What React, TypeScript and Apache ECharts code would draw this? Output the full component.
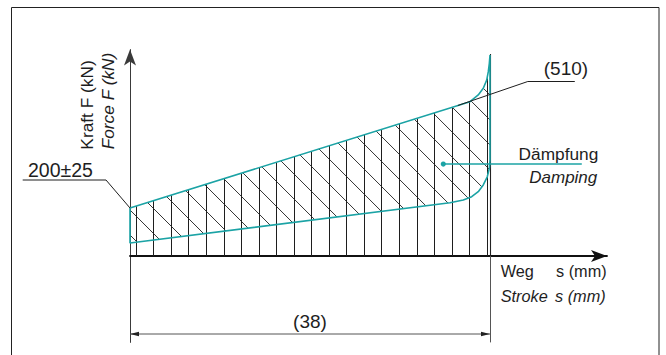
import React, { useEffect, useRef } from 'react';
import * as echarts from 'echarts';

// ---------- data (schematic force / stroke diagram) ----------
const STROKE_MM = 38;                 // dimension "(38)"
const PRELOAD_LABEL = '200±25';       // preload at s = 0
const MAX_FORCE_LABEL = '(510)';
const DAMPING_DE = 'Dämpfung';
const DAMPING_EN = 'Damping';
const Y_LABEL_DE = 'Kraft F (kN)';
const Y_LABEL_EN = 'Force F (kN)';
const X_LABEL_DE = ['Weg', 's (mm)'];
const X_LABEL_EN = ['Stroke', 's (mm)'];

// upper boundary of hatched area: [stroke mm] / [force, schematic kN]
const upperStroke = [0, 35.89, 36.76, 37.29, 37.65, 37.82, 37.93, 38];
const upperForce = [200, 643, 671, 699, 733, 768, 803, 837.5];
// lower boundary of hatched (damping) band
const lowerStroke = [0, 33.78, 35.18, 36.07, 36.76, 37.29, 37.71, 37.93, 38];
const lowerForce = [54, 222, 233, 247, 268, 296, 330, 365, 400];

// annotation anchors (data units)
const preloadPoint = [0, 200];
const maxLeaderStroke = 34.6;
const dampingPoint = [33.07, 383];

// ---------- layout / style constants ----------
const X_MAX = 50.35;
const Y_MIN = -360;
const Y_MAX = 860;
const DIM_FORCE = -325;
const V_HATCH_START = 0.633;
const V_HATCH_STEP = 1.8526;
const D_HATCH_START = 87.5;
const D_HATCH_STEP = 104.17;
const D_HATCH_SLOPE = -39.47;
const TEAL = '#1ba3a5';
const INK = '#1e1e1e';
const FONT = '"Liberation Sans", Arial, Helvetica, sans-serif';

function interp(xs: number[], ys: number[], x: number) {
  if (x <= xs[0]) return ys[0];
  for (let i = 1; i < xs.length; i++) {
    if (x <= xs[i]) {
      const d = xs[i] - xs[i - 1];
      const t = d === 0 ? 1 : (x - xs[i - 1]) / d;
      return ys[i - 1] + t * (ys[i] - ys[i - 1]);
    }
  }
  return ys[ys.length - 1];
}
function rootOf(fn: (x: number) => number, lo: number, hi: number) {
  for (let i = 0; i < 50; i++) {
    const m = (lo + hi) / 2;
    if (fn(m) > 0) lo = m; else hi = m;
  }
  return (lo + hi) / 2;
}

const upperAt = (x: number) => interp(upperStroke, upperForce, x);
const lowerAt = (x: number) => interp(lowerStroke, lowerForce, x);

function buildVerticalHatch() {
  const segs: any[] = [];
  for (let k = 0; ; k++) {
    const x = V_HATCH_START + k * V_HATCH_STEP;
    if (x > STROKE_MM) break;
    segs.push({ coords: [[x, 0], [x, upperAt(x)]] });
  }
  return segs;
}
function buildDiagonalHatch() {
  const segs: any[] = [];
  for (let k = 0; k < 40; k++) {
    const a = D_HATCH_START + k * D_HATCH_STEP;
    const line = (x: number) => a + D_HATCH_SLOPE * x;
    const f = (x: number) => line(x) - upperAt(x);
    const g = (x: number) => line(x) - lowerAt(x);
    if (f(STROKE_MM) > 0) continue;
    if (g(0) < 0) continue;
    const x0 = f(0) <= 0 ? 0 : rootOf(f, 0, STROKE_MM);
    const x1 = g(STROKE_MM) >= 0 ? STROKE_MM : rootOf(g, 0, STROKE_MM);
    if (x1 <= x0) continue;
    segs.push({ coords: [[x0, line(x0)], [x1, line(x1)]] });
  }
  return segs;
}
function buildBoundary() {
  const pts: number[][] = [];
  upperStroke.forEach((x, i) => pts.push([x, upperForce[i]]));
  for (let i = lowerStroke.length - 1; i >= 0; i--) pts.push([lowerStroke[i], lowerForce[i]]);
  pts.push([upperStroke[0], upperForce[0]]);
  return pts;
}

export default function App() {
  const ref = useRef<HTMLDivElement>(null);
  useEffect(() => {
    if (!ref.current) return;
    const chart = echarts.init(ref.current, undefined, { renderer: 'svg' });
    const top = upperForce[upperForce.length - 1];
    chart.setOption({
      animation: false,
      grid: { left: 130, right: 59, top: 49.6, bottom: 12.6 },
      xAxis: {
        type: 'value', min: 0, max: X_MAX,
        axisLine: { show: true, onZero: true, symbol: ['none', 'arrow'], symbolSize: [9, 16], lineStyle: { color: '#111', width: 1.8 } },
        axisTick: { show: false }, axisLabel: { show: false }, splitLine: { show: false },
      },
      yAxis: {
        type: 'value', min: Y_MIN, max: Y_MAX,
        axisLine: { show: true, onZero: true, symbol: ['none', 'arrow'], symbolSize: [9, 16], lineStyle: { color: '#3a3a3a', width: 1 } },
        axisTick: { show: false }, axisLabel: { show: false }, splitLine: { show: false },
      },
      series: [
        {
          type: 'lines', coordinateSystem: 'cartesian2d', silent: true, z: 2,
          lineStyle: { color: INK, width: 1, opacity: 1 },
          data: buildVerticalHatch(),
        },
        {
          type: 'lines', coordinateSystem: 'cartesian2d', silent: true, z: 2,
          lineStyle: { color: INK, width: 0.9, opacity: 1 },
          data: buildDiagonalHatch(),
        },
        {
          type: 'lines', coordinateSystem: 'cartesian2d', silent: true, z: 3,
          lineStyle: { color: '#222', width: 1.1, opacity: 1 },
          data: [{ coords: [[STROKE_MM, top + 4], [STROKE_MM, 0]] }],
        },
        {
          type: 'lines', coordinateSystem: 'cartesian2d', silent: true, z: 3,
          lineStyle: { color: '#555', width: 1, opacity: 1 },
          data: [{ coords: [[STROKE_MM, 0], [STROKE_MM, Y_MIN]] }],
        },
        {
          type: 'line', silent: true, z: 5, symbol: 'none',
          lineStyle: { color: TEAL, width: 1.6 },
          data: buildBoundary(),
        },
      ],
    });

    const px = (p: number[]) => chart.convertToPixel({ gridIndex: 0 } as any, p) as number[];
    const A = px(preloadPoint);
    const B = px([maxLeaderStroke, upperAt(maxLeaderStroke)]);
    const D = px(dampingPoint);
    const E = px([STROKE_MM, 0]);
    const P0 = px([0, DIM_FORCE]);
    const P1 = px([STROKE_MM, DIM_FORCE]);
    const txt = (text: string, x: number, y: number, size: number, align: string, italic = false, extra: any = {}) => ({
      type: 'text', x, y, silent: true, z: 20, ...extra,
      style: {
        text, fill: INK, fontSize: size, fontFamily: FONT, fontStyle: italic ? 'italic' : 'normal',
        align, textAlign: align, verticalAlign: 'middle', textVerticalAlign: 'middle',
      },
    });
    const thin = { stroke: INK, lineWidth: 1, fill: 'none' };

    chart.setOption({
      graphic: [
        { type: 'rect', silent: true, shape: { x: 11.5, y: 7.5, width: 647.5, height: 400 }, style: { fill: 'none', stroke: '#222', lineWidth: 1 } },
        txt(Y_LABEL_DE, 86.5, 105, 17.3, 'center', false, { rotation: Math.PI / 2 }),
        txt(Y_LABEL_EN, 108, 101, 17.3, 'center', true, { rotation: Math.PI / 2 }),
        // preload leader
        { type: 'polyline', silent: true, z: 10, shape: { points: [[A[0] - 107.3, A[1] - 28], [A[0] - 24, A[1] - 28], [A[0], A[1]]] }, style: thin },
        txt(PRELOAD_LABEL, A[0] - 102, A[1] - 38.5, 19.5, 'left'),
        // max force leader
        { type: 'polyline', silent: true, z: 10, shape: { points: [[B[0], B[1]], [B[0] + 70, B[1] - 24], [B[0] + 117, B[1] - 24]] }, style: thin },
        txt(MAX_FORCE_LABEL, B[0] + 86, B[1] - 37.5, 19, 'left'),
        // damping leader
        { type: 'circle', silent: true, z: 10, shape: { cx: D[0], cy: D[1], r: 2.6 }, style: { fill: TEAL } },
        { type: 'line', silent: true, z: 10, shape: { x1: D[0], y1: D[1], x2: D[0] + 138.5, y2: D[1] }, style: { stroke: TEAL, lineWidth: 1.5 } },
        txt(DAMPING_DE, D[0] + 155, D[1] - 10.5, 17.3, 'right'),
        txt(DAMPING_EN, D[0] + 154, D[1] + 13.5, 17, 'right', true),
        // x axis names
        txt(X_LABEL_DE[0], E[0] + 10.7, E[1] + 15.3, 16.3, 'left'),
        txt(X_LABEL_DE[1], E[0] + 66, E[1] + 15.3, 16.3, 'left'),
        txt(X_LABEL_EN[0], E[0] + 10.7, E[1] + 40.3, 16.3, 'left', true),
        txt(X_LABEL_EN[1], E[0] + 65, E[1] + 40.3, 16.3, 'left', true),
        // dimension line
        { type: 'line', silent: true, z: 10, shape: { x1: P0[0], y1: P0[1], x2: P1[0], y2: P1[1] }, style: { stroke: '#555', lineWidth: 1 } },
        { type: 'polygon', silent: true, z: 10, shape: { points: [[P0[0], P0[1]], [P0[0] + 9, P0[1] - 2.3], [P0[0] + 9, P0[1] + 2.3]] }, style: { fill: '#222' } },
        { type: 'polygon', silent: true, z: 10, shape: { points: [[P1[0], P1[1]], [P1[0] - 9, P1[1] - 2.3], [P1[0] - 9, P1[1] + 2.3]] }, style: { fill: '#222' } },
        txt(`(${STROKE_MM})`, (P0[0] + P1[0]) / 2, P0[1] - 12.3, 19, 'center'),
      ],
    });
    return () => chart.dispose();
  }, []);
  return <div ref={ref} style={{ position: 'fixed', left: 0, top: 0, width: 666, height: 355, background: '#fff' }} />;
}
